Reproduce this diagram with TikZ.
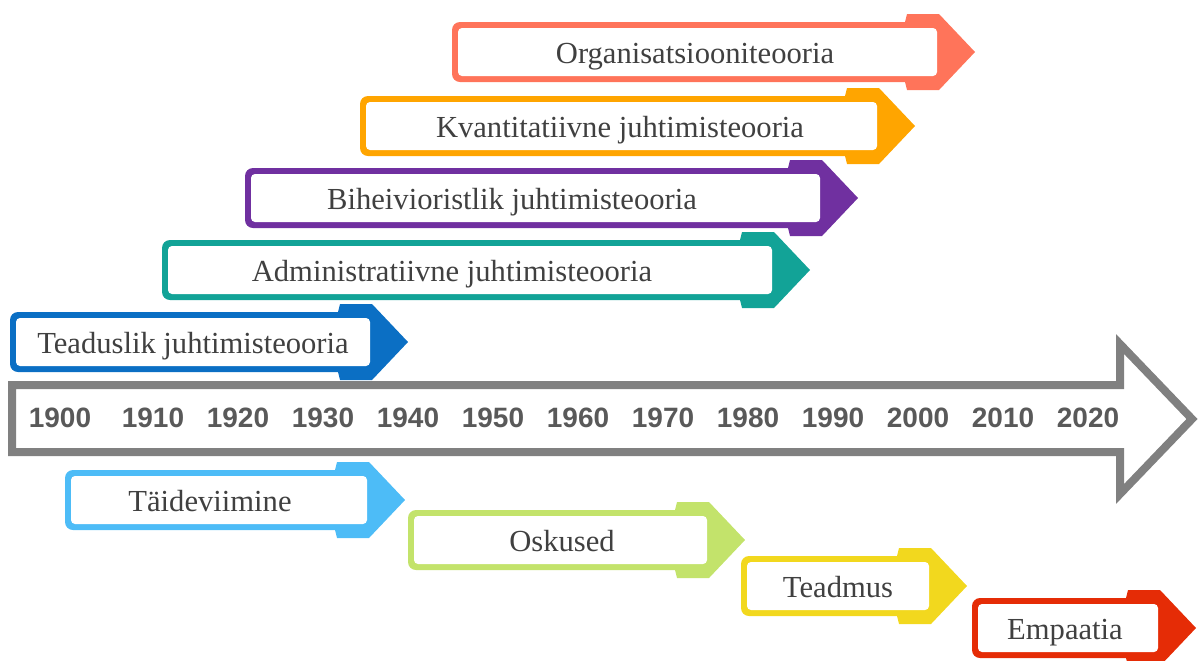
\documentclass[tikz,border=0pt]{standalone}
\usepackage{fontspec}
\setmainfont{Liberation Serif}
\newfontfamily\yearfont{Liberation Sans}
\usepackage{xcolor}
\usepackage{tikz}
\usetikzlibrary{calc}

\definecolor{orgcol}{HTML}{FF745A}
\definecolor{kvacol}{HTML}{FFA500}
\definecolor{bihcol}{HTML}{7030A0}
\definecolor{admcol}{HTML}{12A397}
\definecolor{teacol}{HTML}{0B6FC4}
\definecolor{taicol}{HTML}{4DBCF7}
\definecolor{oskcol}{HTML}{C3E36B}
\definecolor{teadcol}{HTML}{F2D81E}
\definecolor{empcol}{HTML}{E52C06}
\definecolor{axisgray}{HTML}{808080}
\definecolor{yeargray}{HTML}{595959}
\definecolor{textgray}{HTML}{404040}

\begin{document}
\begin{tikzpicture}[x=0.5pt,y=-0.5pt]%% timeline
                \tikzstyle{theory} = [text=textgray, font=\fontsize{15.3}{18}\selectfont, inner sep=0pt, anchor=base]
                \tikzstyle{year}   = [text=yeargray, font=\yearfont\bfseries\fontsize{14}{16}\selectfont, inner sep=0pt, anchor=base]
                \useasboundingbox (0,0) rectangle (1198,660);

                % big gray time axis
                \draw [line width=4pt, draw=axisgray, fill=white, line join=miter]
                        (12,385) -- (1120,385) -- (1120,344) -- (1192,419) -- (1120,494) -- (1120,452) -- (12,452) -- cycle;
                \foreach \yr/\xx in {1900/60,1910/153,1920/238,1930/323,1940/408,1950/493,1960/578,
                                     1970/663,1980/748,1990/833,2000/918,2010/1003,2020/1088}{
                        \node [year](y\yr) at (\xx,427) {\yr};
                }

                % coloured arrows: name/colour/left/top/tip/text x/text
                \foreach \nm/\col/\l/\t/\x/\cx/\txt in {
                        org/orgcol/452/22/975/695/Organisatsiooniteooria,
                        kva/kvacol/360/96/915/620/Kvantitatiivne juhtimisteooria,
                        bih/bihcol/245/168/858/512/Biheivioristlik juhtimisteooria,
                        adm/admcol/162/240/810/452/Administratiivne juhtimisteooria,
                        tea/teacol/10/312/408/193/Teaduslik juhtimisteooria,
                        tai/taicol/65/470/405/210/Täideviimine,
                        osk/oskcol/408/510/745/562/Oskused,
                        tead/teadcol/741/556/967/838/Teadmus,
                        emp/empcol/972/598/1196/1065/Empaatia}{
                        \fill [\col, rounded corners=4pt] (\l,\t) rectangle (\x-60,\t+60);
                        \fill [\col] (\x-70,\t) -- (\x-68,\t-8) -- (\x-36,\t-8) -- (\x,\t+30)
                                -- (\x-36,\t+68) -- (\x-68,\t+68) -- (\x-70,\t+60) -- cycle;
                        \fill [white, rounded corners=2pt] (\l+6,\t+6) rectangle (\x-38,\t+54);
                        \node [theory](\nm) at (\cx,\t+41) {\txt};
                }
\end{tikzpicture}
\end{document}
